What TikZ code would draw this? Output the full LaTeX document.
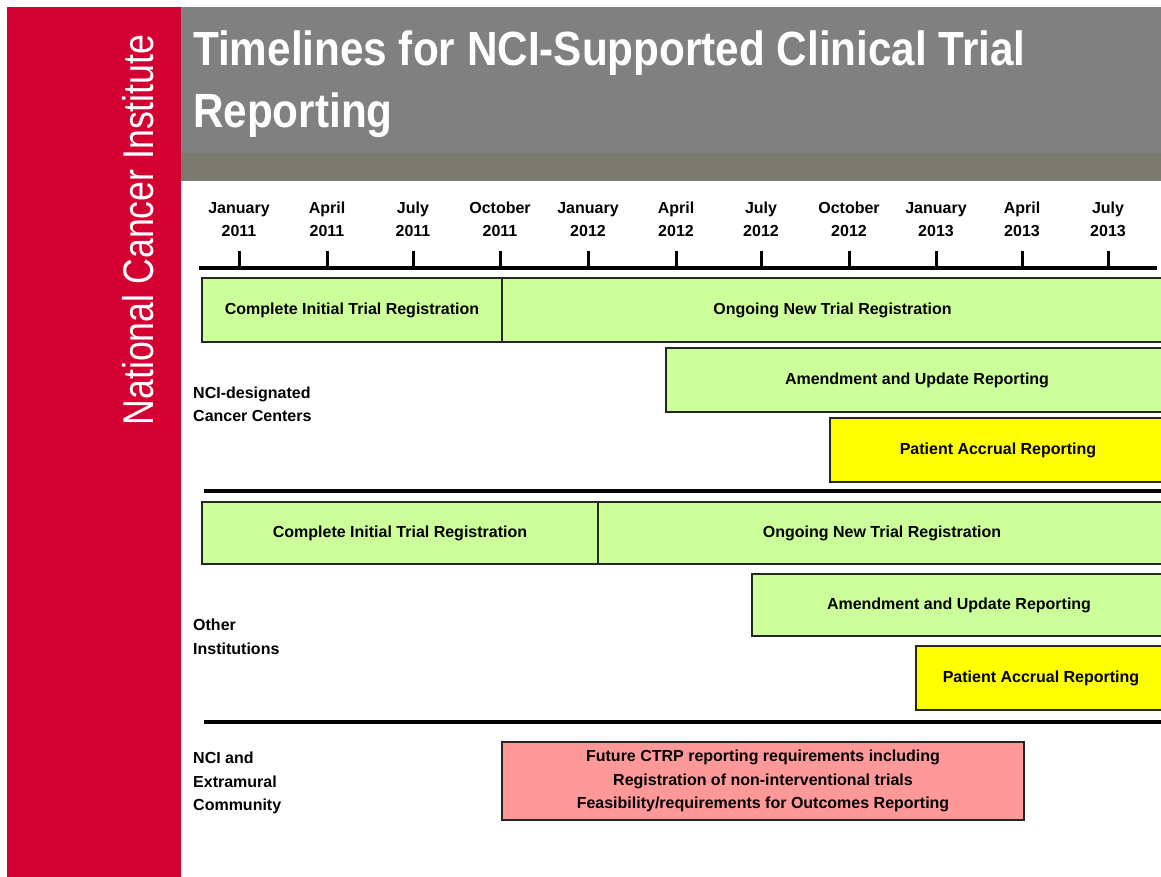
\documentclass[tikz,border=0pt]{standalone}
\usepackage{fontspec}
\setmainfont{Liberation Sans}
\newfontfamily\titlefont{Liberation Sans}[FakeStretch=0.88]
\newfontfamily\sidefont{Liberation Sans}[FakeStretch=0.83]
\usetikzlibrary{positioning}

\definecolor{ncired}{HTML}{D40032}
\definecolor{headgray}{HTML}{808080}
\definecolor{bandgray}{HTML}{7A7A6E}
\definecolor{bargreen}{HTML}{CCFF99}
\definecolor{baryellow}{HTML}{FFFF00}
\definecolor{barpink}{HTML}{FF9999}

\begin{document}
\begin{tikzpicture}[x=1pt, y=-1pt,
    bar/.style={draw=black!85, line width=1.5pt, anchor=north west, outer sep=0, inner sep=0,
      minimum height=64pt, align=center, font=\bfseries\fontsize{16}{23.5}\selectfont},
    rowlabel/.style={anchor=west, align=left, inner sep=0, font=\bfseries\fontsize{16}{23.5}\selectfont},
    month/.style={align=center, inner sep=0, font=\bfseries\fontsize{16}{23}\selectfont},
    rule/.style={line width=4pt}]
  \useasboundingbox (0,0) rectangle (1161,877);

  % frame
  \fill [ncired] (7,7) rectangle (181,877);
  \fill [headgray] (181,7) rectangle (1161,153);
  \fill [bandgray] (181,153) rectangle (1161,181);
  \node [rotate=90, text=white, font=\sidefont\fontsize{43}{43}\selectfont] (institute) at (138,230) {National Cancer Institute};
  \node [anchor=base west, inner sep=0, text=white, font=\titlefont\bfseries\fontsize{48}{62}\selectfont] (title) at (193,66) {Timelines for NCI-Supported Clinical Trial};
  \node [anchor=base west, inner sep=0, text=white, font=\titlefont\bfseries\fontsize{48}{62}\selectfont] (title_cont) at ([yshift=-62pt] title.base west) {Reporting};

  % time axis
  \coordinate (axis_l) at (199,268);
  \coordinate (axis_r) at (1157,268);
  \draw [rule] (axis_l) -- (axis_r);
  \foreach \x/\mon/\yr [count=\i] in {239/January/2011, 327/April/2011, 413/July/2011, 500/October/2011,
      588/January/2012, 676/April/2012, 761/July/2012, 849/October/2012, 936/January/2013,
      1022/April/2013, 1108/July/2013} {
    \coordinate (tick\i) at (\x,268);
    \draw [line width=3pt] (tick\i) -- ++(0,-17);
    \node [month] (month\i) at (\x,221) {\mon\vphantom{Jy}\\\yr\vphantom{Jy}};
  }

  % NCI-designated cancer centers
  \node [rowlabel] (centers) at (193,404.5) {NCI-designated\\Cancer Centers};
  \node [bar, fill=bargreen, minimum width=300] (cc_init) at (202,278) {Complete Initial Trial Registration};
  \node [bar, fill=bargreen, minimum width=661, right=0pt of cc_init] (cc_new) {Ongoing New Trial Registration};
  \node [bar, fill=bargreen, minimum width=502] (cc_amend) at (666,348) {Amendment and Update Reporting};
  \node [bar, fill=baryellow, minimum width=336] (cc_accrual) at (830,418) {Patient Accrual Reporting};

  \coordinate (sep1_l) at (204,491);
  \coordinate (sep1_r) at (1161,491);
  \draw [rule] (sep1_l) -- (sep1_r);

  % other institutions
  \node [rowlabel] (others) at (193,637) {Other\\Institutions};
  \node [bar, fill=bargreen, minimum width=396, minimum height=62pt] (oi_init) at (202,502) {Complete Initial Trial Registration};
  \node [bar, fill=bargreen, minimum width=568, minimum height=62pt, right=0pt of oi_init] (oi_new) {Ongoing New Trial Registration};
  \node [bar, fill=bargreen, minimum width=414, minimum height=62pt] (oi_amend) at (752,574) {Amendment and Update Reporting};
  \node [bar, fill=baryellow, minimum width=250] (oi_accrual) at (916,646) {Patient Accrual Reporting};

  \coordinate (sep2_l) at (204,722);
  \coordinate (sep2_r) at (1161,722);
  \draw [rule] (sep2_l) -- (sep2_r);

  % NCI and extramural community
  \node [rowlabel] (community) at (193,783) {NCI and\\Extramural\\Community};
  \node [bar, fill=barpink, minimum width=522, minimum height=78pt] (future) at (502,742)
    {Future CTRP reporting requirements including\\Registration of non-interventional trials\\Feasibility/requirements for Outcomes Reporting};
\end{tikzpicture}
\end{document}
